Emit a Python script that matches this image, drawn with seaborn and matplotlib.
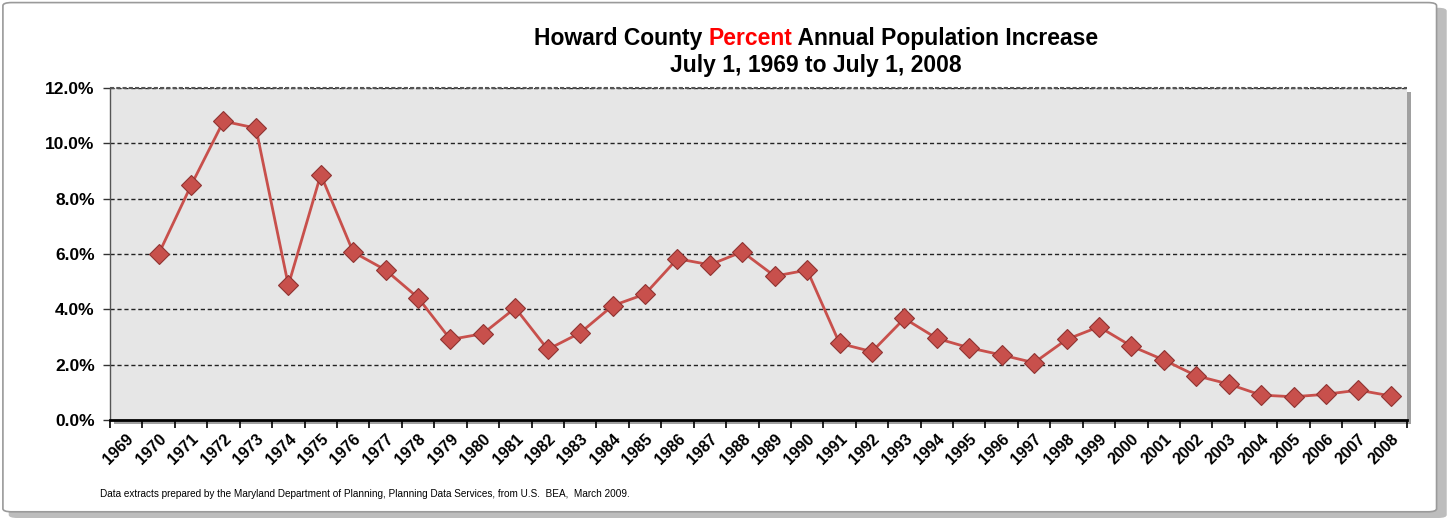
import numpy as np
import pandas as pd
import matplotlib
matplotlib.use("Agg")
import matplotlib.pyplot as plt
import seaborn as sns
from matplotlib.patches import FancyBboxPatch, Rectangle
from matplotlib.ticker import FixedLocator, PercentFormatter

# ---- data ----
years = [str(y) for y in range(1969, 2009)]
data_years = [str(y) for y in range(1970, 2009)]
pct_increase = [6.0, 8.48, 10.8, 10.55, 4.87, 8.87, 6.07, 5.42, 4.42, 2.91,
                3.12, 4.05, 2.55, 3.15, 4.13, 4.55, 5.83, 5.61, 6.08, 5.2,
                5.42, 2.77, 2.47, 3.67, 2.95, 2.61, 2.35, 2.07, 2.91, 3.37,
                2.67, 2.17, 1.6, 1.3, 0.9, 0.84, 0.93, 1.08, 0.87]
y_ticks = [0, 2, 4, 6, 8, 10, 12]

title_1 = "Howard County "
title_red = "Percent"
title_2 = " Annual Population Increase"
subtitle = "July 1, 1969 to July 1, 2008"
footnote = ("Data extracts prepared by the Maryland Department of Planning, "
            "Planning Data Services, from U.S.  BEA,  March 2009.")

df = pd.DataFrame({"year": data_years, "pct": pct_increase})

sns.set_theme(style="white")
plt.rcParams["font.family"] = ["Liberation Sans", "DejaVu Sans"]
plt.rcParams["text.color"] = "black"
plt.rcParams["xtick.color"] = "black"
plt.rcParams["ytick.color"] = "black"

fig = plt.figure(figsize=(14.54, 5.18), dpi=100)
fig.patch.set_facecolor("white")

# outer chart border with shadow
shadow = FancyBboxPatch((0.006, 0.0), 0.989, 0.985, boxstyle="round,pad=0,rounding_size=0.006",
                        transform=fig.transFigure, facecolor="#bdbdbd", edgecolor="none",
                        zorder=-3)
fig.patches.append(shadow)
border = FancyBboxPatch((0.002, 0.012), 0.986, 0.983, boxstyle="round,pad=0,rounding_size=0.006",
                        transform=fig.transFigure, facecolor="white", edgecolor="#9a9a9a",
                        linewidth=1.2, zorder=-2)
fig.patches.append(border)

ax_l, ax_b, ax_w, ax_h = 110 / 1454, 1 - 420 / 518, (1407 - 110) / 1454, (420 - 88) / 518
# plot-area shadow
fig.patches.append(Rectangle((ax_l + 0.003, ax_b - 0.008), ax_w, ax_h, transform=fig.transFigure,
                             facecolor="#a0a0a0", edgecolor="none", zorder=-1))
ax = fig.add_axes([ax_l, ax_b, ax_w, ax_h])
ax.set_facecolor("#e6e6e6")

sns.pointplot(data=df, x="year", y="pct", order=years, ax=ax,
              color="#c8504c", markers="D", linestyles="-",
              markersize=10, linewidth=2.0, errorbar=None,
              markeredgecolor="#8f3331", markeredgewidth=0.8)

ax.set_xlim(-0.5, len(years) - 0.5)
ax.set_ylim(0, 12)
ax.set_xlabel("")
ax.set_ylabel("")

# y axis
ax.set_yticks(y_ticks)
ax.yaxis.set_major_formatter(PercentFormatter(decimals=1))
for v in y_ticks[1:]:
    ax.axhline(v, color="#222222", linestyle=(0, (3, 2)), linewidth=1.0, zorder=1)
ax.tick_params(axis="y", which="major", length=5, width=1, color="#333333", direction="out",
               labelsize=12.5, pad=6, left=True, labelcolor="black")
for lab in ax.get_yticklabels():
    lab.set_fontweight("bold")

# x axis: labels at category centres, tick marks at boundaries
ax.set_xticks(range(len(years)))
ax.set_xticklabels(years, rotation=45, ha="right", rotation_mode="anchor",
                   fontsize=11.5, fontweight="bold", color="black")
ax.tick_params(axis="x", which="major", length=0, pad=8)
ax.xaxis.set_minor_locator(FixedLocator(np.arange(-0.5, len(years), 1.0)))
ax.tick_params(axis="x", which="minor", length=6, width=1.2, color="black",
               direction="out", bottom=True)

for side in ["top", "right"]:
    ax.spines[side].set_visible(False)
ax.spines["bottom"].set_color("black")
ax.spines["bottom"].set_linewidth(2)
ax.spines["left"].set_color("#555555")
ax.spines["left"].set_linestyle((0, (2, 1)))
ax.spines["left"].set_linewidth(1.0)
ax.axhline(12, color="#555555", linestyle=(0, (2, 1)), linewidth=1.5, clip_on=False, zorder=1)

# title with red word
tfs = 16.5
tx = 816 / 1454
ty = 1 - 45 / 518
t1 = fig.text(0, ty, title_1, fontsize=tfs, fontweight="bold", va="baseline", ha="left",
              color="black")
t2 = fig.text(0, ty, title_red, fontsize=tfs, fontweight="bold", va="baseline", ha="left",
              color="#ff0000")
t3 = fig.text(0, ty, title_2, fontsize=tfs, fontweight="bold", va="baseline", ha="left",
              color="black")
fig.canvas.draw()
r = fig.canvas.get_renderer()
w1 = t1.get_window_extent(r).width / fig.bbox.width
w2 = t2.get_window_extent(r).width / fig.bbox.width
w3 = t3.get_window_extent(r).width / fig.bbox.width
start = tx - (w1 + w2 + w3) / 2
t1.set_x(start)
t2.set_x(start + w1)
t3.set_x(start + w1 + w2)
fig.text(tx, 1 - 72 / 518, subtitle, fontsize=tfs, fontweight="bold", va="baseline",
         ha="center", color="black")

fig.text(100 / 1454, 1 - 494 / 518, footnote, fontsize=7.2, va="center", ha="left",
         color="black")

fig.savefig("out.png", dpi=100, facecolor="white")
